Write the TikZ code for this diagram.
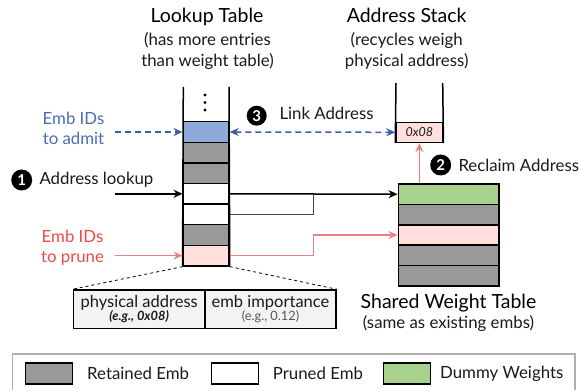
\documentclass[tikz,border=0pt]{standalone}
\usepackage{fontspec}
\setmainfont{Lato}
\usetikzlibrary{arrows.meta}
\definecolor{cellgray}{HTML}{999999}
\definecolor{cellblue}{HTML}{8EAADB}
\definecolor{cellpink}{HTML}{FFE0DC}
\definecolor{cellgreen}{HTML}{A9D18E}
\definecolor{txtblue}{HTML}{4A6DB5}
\definecolor{linblue}{HTML}{3B5EA8}
\definecolor{txtred}{HTML}{F04848}
\definecolor{linred}{HTML}{EE7F7F}
\definecolor{detfill}{HTML}{F3F3F3}
\definecolor{txtgray}{HTML}{555555}
\definecolor{legframe}{HTML}{B0B0B0}
\definecolor{darkline}{HTML}{444444}
\definecolor{txtmain}{HTML}{1A1A1A}
\begin{document}
\begin{tikzpicture}[x=1pt,y=-1pt,
  every node/.style={text=txtmain},
  lcell/.style={draw=black,line width=1.5pt,minimum width=45.7pt,minimum height=20.6pt,inner sep=0pt},
  scell/.style={draw=black,line width=1.5pt,minimum width=46.7pt,minimum height=20pt,inner sep=0pt},
  wcell/.style={draw=black,line width=1.5pt,minimum width=100.7pt,minimum height=20.4pt,inner sep=0pt},
  detail/.style={draw=black,line width=1.5pt,fill=detfill,inner sep=0pt,align=center,minimum height=38.3pt},
  swatch/.style={draw=black,line width=1.5pt,minimum width=47pt,minimum height=21pt,inner sep=0pt},
  title/.style={font=\fontsize{19.5}{19.5}\selectfont,anchor=base,inner sep=0pt,text=black},
  sub/.style={font=\fontsize{16.8}{16.8}\selectfont,anchor=base,inner sep=0pt},
  lbl/.style={font=\fontsize{16.8}{16.8}\selectfont,anchor=base west,inner sep=0pt},
  num/.style={circle,fill=black,minimum size=21pt,inner sep=0pt,text=white,font=\fontsize{15}{15}\selectfont\bfseries},
  arr/.style={line width=1.5pt,-{Stealth[length=9pt,width=8pt]}},
  tabline/.style={line width=1.5pt,draw=black}
]
\useasboundingbox (0,0) rectangle (579,390);

% ---------- Lookup table ----------
\node[lcell,fill=cellblue] (l1) at (206.15,132.0) {};
\node[lcell,fill=cellgray] (l2) at (206.15,152.6) {};
\node[lcell,fill=cellgray] (l3) at (206.15,173.2) {};
\node[lcell,fill=white]    (l4) at (206.15,193.8) {};
\node[lcell,fill=white]    (l5) at (206.15,214.4) {};
\node[lcell,fill=cellgray] (l6) at (206.15,235.0) {};
\node[lcell,fill=cellpink] (l7) at (206.15,255.6) {};
\coordinate (ltl) at (183.3,87);
\coordinate (ltr) at (229,87);
\draw[tabline] (ltl) -- (l7.south west);
\draw[tabline] (ltr) -- (l7.south east);
\fill (205,95) circle (1.7pt) (205,102.5) circle (1.7pt) (205,110) circle (1.7pt);

\node[title] (tlook) at (207,22.7) {Lookup Table};
\node[sub] (slook1) at (207.5,46) {(has more entries};
\node[sub] (slook2) at (207.5,67) {than weight table)};

% ---------- Address stack ----------
\node[scell,fill=cellpink,font=\fontsize{12.5}{12.5}\selectfont\itshape] (s1) at (419.35,132.3) {0x08};
\coordinate (stl) at (396,83);
\coordinate (str) at (442.7,83);
\draw[tabline] (stl) -- (s1.south west);
\draw[tabline] (str) -- (s1.south east);

\node[title] (tstack) at (406.7,22.7) {Address Stack};
\node[sub] (sstack1) at (406.7,46) {(recycles weigh};
\node[sub] (sstack2) at (406.7,67) {physical address)};

% ---------- Shared weight table ----------
\node[wcell,fill=cellgreen] (w1) at (448.65,194.2) {};
\node[wcell,fill=cellgray]  (w2) at (448.65,214.6) {};
\node[wcell,fill=cellpink]  (w3) at (448.65,235.0) {};
\node[wcell,fill=cellgray]  (w4) at (448.65,255.4) {};
\node[wcell,fill=cellgray]  (w5) at (448.65,275.8) {};

\node[title] (tweight) at (448.5,308.3) {Shared Weight Table};
\node[sub] (sweight) at (448.5,328.3) {(same as existing embs)};

% ---------- Left labels ----------
\node[font=\fontsize{16.8}{16.8}\selectfont,text=txtblue,align=center,inner sep=0pt] (admit) at (73.5,128) {Emb IDs\\[3pt]to admit};
\node[font=\fontsize{16.8}{16.8}\selectfont,text=txtred,align=center,inner sep=0pt] (prune) at (72.5,247.5) {Emb IDs\\[3pt]to prune};
\node[num] (n1) at (21.7,180) {1};
\node[lbl] (alook) at (39.3,185) {Address lookup};

\coordinate (admitstart) at (115,132.0);
\coordinate (lookstart) at (115,193.8);
\coordinate (prunestart) at (115,255.6);

\draw[arr,draw=linblue,dash pattern=on 6pt off 4pt] (admitstart) -- (l1.west);
\draw[arr,draw=black] (lookstart) -- (l4.west);
\draw[arr,draw=linred] (prunestart) -- (l7.west);

% ---------- Connectors to weight table ----------
\coordinate (j1) at (313.3,194.2);
\coordinate (j2) at (313.3,235.0);
\draw[arr,draw=black] (l4.east) -- (w1.west);
\draw[line width=1.5pt,draw=darkline] (l5.east) -| (j1);
\draw[arr,draw=linred] (l7.east) -| (j2) -- (w3.west);

% ---------- Link address ----------
\draw[line width=1.5pt,draw=linblue,dash pattern=on 6pt off 4pt,{Stealth[length=9pt,width=8pt]}-{Stealth[length=9pt,width=8pt]}] (l1.east) -- (s1.west);
\node[num,minimum size=20pt] (n3) at (256.7,115.7) {3};
\node[lbl] (link) at (279.3,120) {Link Address};

% ---------- Reclaim ----------
\draw[arr,draw=linred] (s1.south |- w1.north) -- (s1.south);
\node[num] (n2) at (440.7,165) {2};
\node[lbl] (reclaim) at (458.3,171.7) {Reclaim Address};

% ---------- Detail box ----------
\node[detail,minimum width=131.7pt] (d1) at (139.15,309.15) {{\fontsize{16.5}{16.5}\selectfont physical address}\\[-1pt]{\fontsize{12.8}{12.8}\selectfont\bfseries\itshape (e.g., 0x08)}};
\node[detail,minimum width=131pt] (d2) at (270.5,309.15) {{\fontsize{16.5}{16.5}\selectfont emb importance}\\[-1pt]{\fontsize{12.8}{12.8}\selectfont\color{txtgray}(e.g., 0.12)}};
\draw[dashed,line width=0.8pt] (l7.south west) -- (d1.north west);
\draw[dashed,line width=0.8pt] (l7.south east) -- (d2.north east);

% ---------- Legend ----------
\draw[draw=legframe,line width=1.3pt] (12.7,354) rectangle (575,393);
\node[swatch,fill=cellgray] (lg1) at (49.2,373.5) {};
\node[lbl,anchor=west] (lt1) at (87,373.5) {Retained Emb};
\node[swatch,fill=white] (lg2) at (235,373.5) {};
\node[lbl,anchor=west] (lt2) at (272.7,373.5) {Pruned Emb};
\node[swatch,fill=cellgreen] (lg3) at (407.2,373.5) {};
\node[lbl,anchor=west] (lt3) at (440,373.5) {Dummy Weights};
\end{tikzpicture}
\end{document}
